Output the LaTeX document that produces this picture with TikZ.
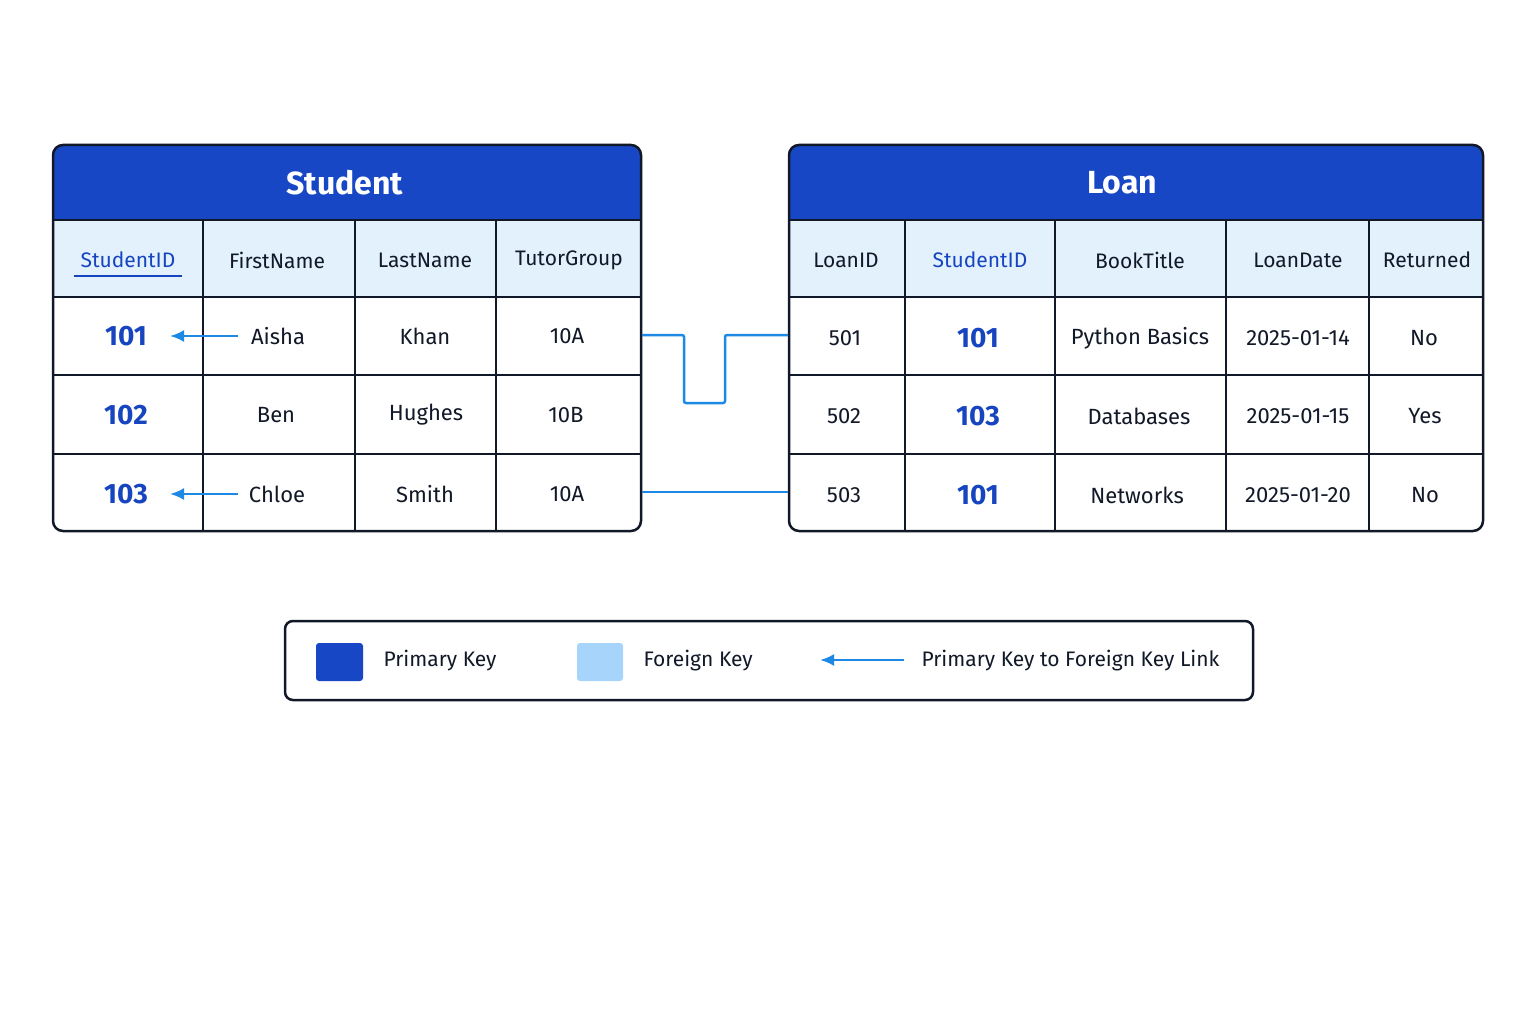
\documentclass[tikz,border=0pt]{standalone}
\usepackage{fontspec}
\setmainfont{Fira Sans}
\usetikzlibrary{arrows.meta}
\definecolor{hdr}{HTML}{1747C4}
\definecolor{lite}{HTML}{E3F1FD}
\definecolor{idc}{HTML}{1745C0}
\definecolor{lnk}{HTML}{1E88E5}
\definecolor{fk}{HTML}{A6D4FA}
\definecolor{ink}{HTML}{111827}
\tikzset{
 x=1pt,y=-1pt,
 grid/.style={draw=ink,line width=2.5pt},
 title/.style={font=\fontsize{32}{36}\selectfont\bfseries,text=white},
 colh/.style={font=\fontsize{21}{26}\selectfont,text=ink},
 cell/.style={font=\fontsize{22}{27}\selectfont,text=ink},
 idt/.style={font=\fontsize{28}{32}\selectfont\bfseries,text=idc},
 link/.style={draw=lnk,line width=2.5pt},
 larr/.style={link,-{Latex[length=14pt,width=12pt]}},
 leg/.style={font=\fontsize{21}{26}\selectfont,text=ink,anchor=west}
}
\begin{document}
\begin{tikzpicture}
\useasboundingbox (0,0) rectangle (1536,1024);
\fill[white] (0,0) rectangle (1536,1024);
% Student table
\fill[white,rounded corners=10] (53,145) rectangle (641,531);
\fill[hdr,rounded corners=10] (53,145) rectangle (641,240);
\fill[lite] (53,220) rectangle (641,297);
\draw[grid] (53,220) -- (641,220) (53,297) -- (641,297) (53,375) -- (641,375) (53,454) -- (641,454);
\foreach \x in {203,355,496} \draw[grid] (\x,220) -- (\x,531);
\draw[grid,rounded corners=10] (53,145) rectangle (641,531);
\node[title] (st) at (345,183) {Student};
\node[colh,text=idc] (sh1) at (128,260) {StudentID};
\draw[idc,line width=2pt] (74,276) -- (182,276);
\node[colh] (sh2) at (277,260) {FirstName};
\node[colh] (sh3) at (425,260) {LastName};
\node[colh] (sh4) at (569,260) {TutorGroup};
\node[idt] (sa1) at (126,336) {101};
\node[cell] (sb1) at (278,336) {Aisha};
\node[cell] (sc1) at (425,336) {Khan};
\node[cell] (sd1) at (567,336) {10A};
\node[idt] (sa2) at (126,415) {102};
\node[cell] (sb2) at (276,415) {Ben};
\node[cell] (sc2) at (426,415) {Hughes};
\node[cell] (sd2) at (566,415) {10B};
\node[idt] (sa3) at (126,494) {103};
\node[cell] (sb3) at (277,494) {Chloe};
\node[cell] (sc3) at (425,494) {Smith};
\node[cell] (sd3) at (567,494) {10A};
\coordinate (a1) at (238,336);
\coordinate (a3) at (238,494);
\draw[larr] (a1) -- (sa1.east -| 170,0);
\draw[larr] (a3) -- (sa3.east -| 170,0);
% Loan table
\fill[white,rounded corners=10] (789,145) rectangle (1483,531);
\fill[hdr,rounded corners=10] (789,145) rectangle (1483,240);
\fill[lite] (789,220) rectangle (1483,297);
\draw[grid] (789,220) -- (1483,220) (789,297) -- (1483,297) (789,375) -- (1483,375) (789,454) -- (1483,454);
\foreach \x in {905,1055,1226,1369} \draw[grid] (\x,220) -- (\x,531);
\draw[grid,rounded corners=10] (789,145) rectangle (1483,531);
\node[title] (lt) at (1122,183) {Loan};
\node[colh] (lh1) at (846,260) {LoanID};
\node[colh,text=idc] (lh2) at (980,260) {StudentID};
\node[colh] (lh3) at (1140,260) {BookTitle};
\node[colh] (lh4) at (1298,260) {LoanDate};
\node[colh] (lh5) at (1427,260) {Returned};
\node[cell] (la1) at (845,338) {501};
\node[idt] (lb1) at (978,338) {101};
\node[cell] (lc1) at (1140,338) {Python Basics};
\node[cell] (ld1) at (1298,338) {2025-01-14};
\node[cell] (le1) at (1424,338) {No};
\node[cell] (la2) at (844,416) {502};
\node[idt] (lb2) at (978,416) {103};
\node[cell] (lc2) at (1139,416) {Databases};
\node[cell] (ld2) at (1298,416) {2025-01-15};
\node[cell] (le2) at (1425,416) {Yes};
\node[cell] (la3) at (844,495) {503};
\node[idt] (lb3) at (978,495) {101};
\node[cell] (lc3) at (1137,495) {Networks};
\node[cell] (ld3) at (1298,495) {2025-01-20};
\node[cell] (le3) at (1425,495) {No};
% links
\coordinate (p1) at (642,335);
\coordinate (q1) at (788,335);
\draw[link,rounded corners=2] (p1) -- (684,335) -- (684,403) -- (725,403) -- (725,335) -- (q1);
\coordinate (p3) at (642,492);
\coordinate (q3) at (788,492);
\draw[link] (p3) -- (q3);
% legend
\draw[draw=ink,line width=2.5pt,fill=white,rounded corners=8] (285,621) rectangle (1253,700);
\fill[hdr,rounded corners=3] (316,643) rectangle (363,681);
\node[leg] (l1) at (380,661) {Primary Key};
\fill[fk,rounded corners=3] (577,643) rectangle (623,681);
\node[leg] (l2) at (640,661) {Foreign Key};
\coordinate (ar0) at (904,660);
\coordinate (ar1) at (820,660);
\draw[larr] (ar0) -- (ar1);
\node[leg] (l3) at (918,661) {Primary Key to Foreign Key Link};
\end{tikzpicture}
\end{document}
